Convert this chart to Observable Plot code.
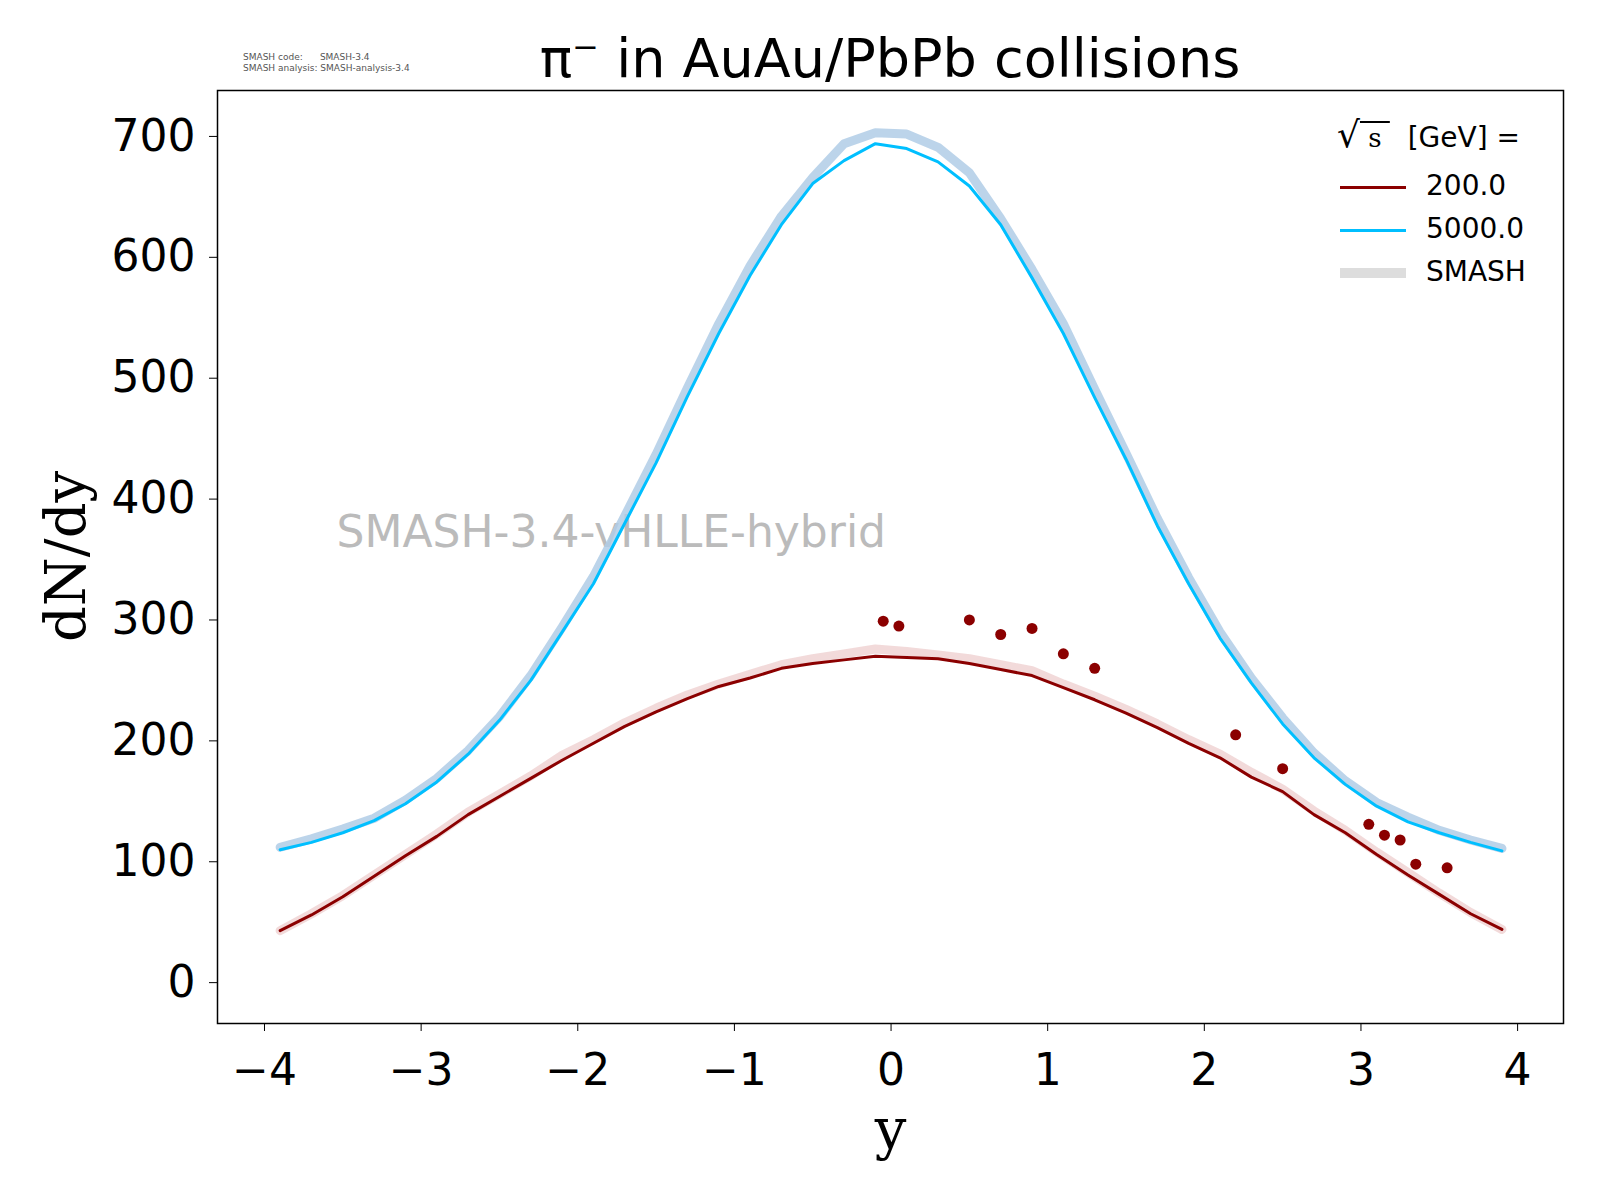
<!DOCTYPE html>
<html><head><meta charset="utf-8">
<script src="https://cdn.jsdelivr.net/npm/d3@7"></script>
<script src="https://cdn.jsdelivr.net/npm/@observablehq/plot@0.6"></script>
<style>
body{margin:0;background:#fff;font-family:"DejaVu Sans",sans-serif;}
#wrap{position:relative;width:1600px;height:1200px;}
.abs{position:absolute;white-space:nowrap;}
</style></head><body>
<div id="wrap">
<div id="chart" class="abs" style="left:0;top:0"></div>
<div class="abs" style="left:0;width:1780px;text-align:center;top:27px;font-size:54px;">π<sup style="font-size:32px">−</sup> in AuAu/PbPb collisions</div>
<div class="abs" style="left:243px;top:52px;font-size:9px;color:#555;line-height:11px">SMASH code:&nbsp;&nbsp;&nbsp;&nbsp;&nbsp;&nbsp;SMASH-3.4<br>SMASH analysis: SMASH-analysis-3.4</div>
<div class="abs" style="left:1337px;top:114px;font-size:28px;"><span style="font-family:'DejaVu Serif',serif;font-size:36px">√<span style="text-decoration:overline;font-size:26px">&nbsp;s&nbsp;</span></span>&nbsp; [GeV] =</div>
<div class="abs" style="left:1340px;top:164px;font-size:28px;line-height:43px">
<div><span style="display:inline-block;width:66px;height:3px;background:#8b0000;vertical-align:middle;margin-right:20px"></span>200.0</div>
<div><span style="display:inline-block;width:66px;height:3px;background:#00bfff;vertical-align:middle;margin-right:20px"></span>5000.0</div>
<div><span style="display:inline-block;width:66px;height:10px;background:#ddd;vertical-align:middle;margin-right:20px"></span>SMASH</div>
</div>
</div>
<script>
const ys = d3.range(-3.9, 3.95, 0.2).map(v => +v.toFixed(1));
const blue = [110,116,124,134,148,166,189,217,250,290,330,380,430,485,537,585,627,661,680,694,690,679,659,627,583,537,484,433,378,330,285,248,214,186,164,146,133,124,116,109];
const blueSmash = [112,119,127,136,151,169,192,220,254,294,336,386,437,492,545,593,634,666,694,703,702,691,670,632,590,545,491,438,384,335,290,252,219,190,167,149,137,126,118,111];
const red = [43,56,71,88,105,121,139,154,169,184,198,212,224,235,245,252,260,264,267,270,269,268,264,259,254,244,234,223,211,198,186,170,158,139,124,106,89,73,57,44];
const redSmash = [43,57,72,89,106,123,141,156,171,188,201,215,227,238,247,255,263,268,272,276,274,271,268,263,258,247,237,226,214,201,189,174,160,142,126,108,91,74,58,44];
const dataY = [-0.05,0.05,0.5,0.7,0.9,1.1,1.3,2.2,2.5,3.05,3.15,3.25,3.35,3.55];
const dataN = [299,295,300,288,293,272,260,205,177,131,122,118,98,95];
const mk = (a) => ys.map((y,i)=>({y, v:a[i]}));
const pts = dataY.map((y,i)=>({y, v:dataN[i]}));
const chart = Plot.plot({
  width:1600, height:1200,
  marginTop:90, marginBottom:177, marginLeft:217, marginRight:37,
  x:{domain:[-4.3,4.293]}, y:{domain:[-33.8,738]},
  style:{fontSize:"44px", fontFamily:"DejaVu Sans, sans-serif", color:"#000"},
  marks:[
    Plot.frame({stroke:"#000", strokeWidth:1.5}),
    Plot.axisX({ticks:[-4,-3,-2,-1,0,1,2,3,4], tickSize:8, tickPadding:22, fontSize:44, label:null, tickFormat:d=>d<0?"−"+(-d):String(d)}),
    Plot.axisY({ticks:[0,100,200,300,400,500,600,700], tickSize:8, tickPadding:14, fontSize:44, label:null}),
    Plot.text(["y"],{frameAnchor:"bottom", dy:125, fontSize:56, fontFamily:"DejaVu Serif, serif"}),
    Plot.text(["dN/dy"],{frameAnchor:"left", dx:-150, dy:85, rotate:-90, fontSize:56, fontFamily:"DejaVu Serif, serif"}),
    Plot.text(["SMASH-3.4-vHLLE-hybrid"],{x:-3.54, y:372, textAnchor:"start", fontSize:44, fill:"#bbb"}),
    Plot.line(mk(blueSmash),{x:"y",y:"v",stroke:"#b0cce6",strokeWidth:9,strokeOpacity:0.85}),
    Plot.line(mk(redSmash),{x:"y",y:"v",stroke:"#f0d4d4",strokeWidth:9,strokeOpacity:0.85}),
    Plot.line(mk(blue),{x:"y",y:"v",stroke:"#00bfff",strokeWidth:3}),
    Plot.line(mk(red),{x:"y",y:"v",stroke:"#8b0000",strokeWidth:3}),
    Plot.dot(pts,{x:"y",y:"v",r:5.5,fill:"#8b0000"})
  ]
});
document.getElementById("chart").appendChild(chart);
</script>
</body></html>
